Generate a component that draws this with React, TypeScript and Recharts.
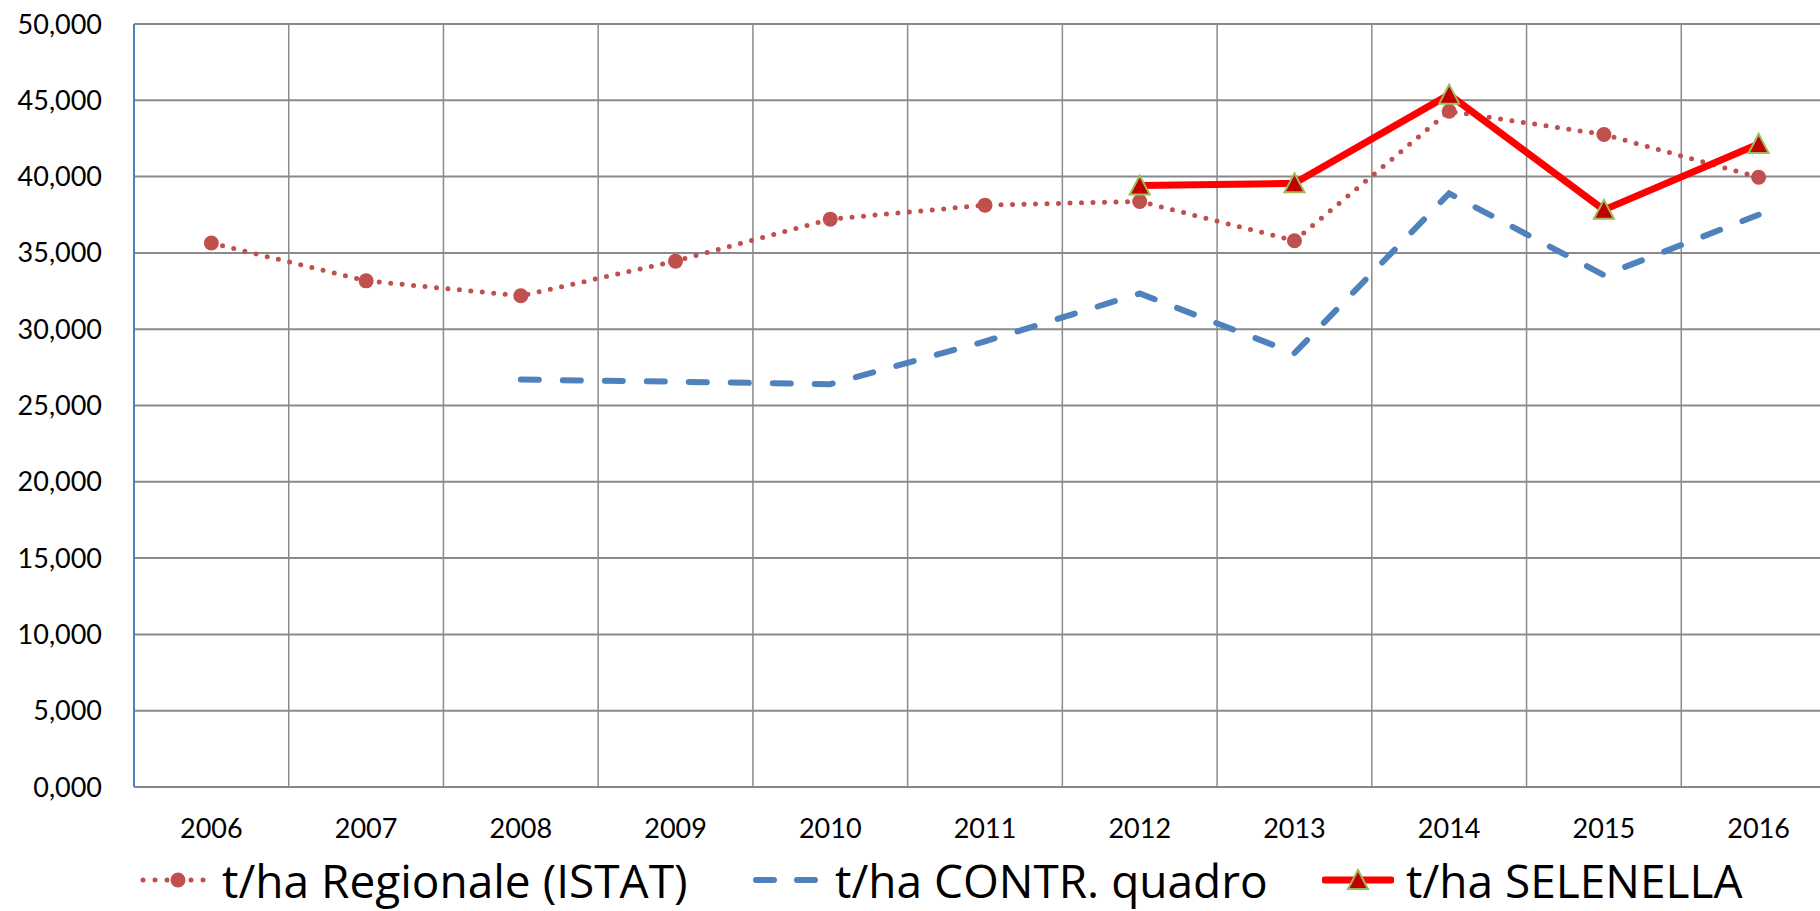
import React from 'react'
import { LineChart, Line, XAxis, YAxis, CartesianGrid, Legend } from 'recharts'

// t/ha per year
const years = ['2006', '2007', '2008', '2009', '2010', '2011', '2012', '2013', '2014', '2015', '2016']
const regionale = [35.65, 33.17, 32.19, 34.46, 37.21, 38.13, 38.37, 35.8, 44.28, 42.76, 39.96]
const contrQuadro = [null, null, 26.7, 26.56, 26.4, 29.2, 32.34, 28.43, 38.9, 33.54, 37.5]
const selenella = [null, null, null, null, null, null, 39.41, 39.56, 45.37, 37.82, 42.14]
const yTicks = [0, 5, 10, 15, 20, 25, 30, 35, 40, 45, 50]

const labels = {
  regionale: 't/ha Regionale (ISTAT)',
  contr: 't/ha CONTR. quadro',
  selenella: 't/ha SELENELLA',
}

const data = years.map((y, i) => ({
  year: y,
  regionale: regionale[i],
  contr: contrQuadro[i],
  selenella: selenella[i],
}))

const FONT = 'Lato, "Noto Sans", sans-serif'
const LEGEND_FONT = '"Open Sans", Lato, sans-serif'
const fmt = (v: number) => v.toFixed(3).replace('.', ',')

const Triangle = (props: any) => {
  const { cx, cy } = props
  if (cx == null || cy == null || props.value == null) return null
  return (
    <polygon
      points={`${cx},${cy - 10} ${cx + 10},${cy + 9} ${cx - 10},${cy + 9}`}
      fill="#C00000"
      stroke="#9BBB59"
      strokeWidth={2}
    />
  )
}

const RoundDot = (props: any) => {
  const { cx, cy } = props
  if (cx == null || cy == null || props.value == null) return null
  return <circle cx={cx} cy={cy} r={7.5} fill="#C0504D" />
}

function LegendIcon({ kind }: { kind: string }) {
  if (kind === 'regionale') {
    return (
      <svg width={70} height={24}>
        <line x1={3} y1={12} x2={66} y2={12} stroke="#C0504D" strokeWidth={5}
          strokeDasharray="0 12" strokeLinecap="round" />
        <circle cx={38} cy={12} r={7.5} fill="#C0504D" />
      </svg>
    )
  }
  if (kind === 'contr') {
    return (
      <svg width={70} height={24}>
        <line x1={3} y1={12} x2={66} y2={12} stroke="#4F81BD" strokeWidth={6}
          strokeDasharray="18 23" strokeLinecap="round" />
      </svg>
    )
  }
  return (
    <svg width={72} height={24}>
      <line x1={3} y1={12} x2={69} y2={12} stroke="#FF0000" strokeWidth={7} strokeLinecap="round" />
      <polygon points="36,2 46,21 26,21" fill="#C00000" stroke="#9BBB59" strokeWidth={2} />
    </svg>
  )
}

const legendOrder = [
  { key: 'regionale', width: 613 },
  { key: 'contr', width: 569 },
  { key: 'selenella', width: 480 },
]

function renderLegend() {
  return (
    <div style={{ paddingTop: 5, height: 55, paddingLeft: 140, fontFamily: LEGEND_FONT }}>
      <div style={{ display: 'flex', alignItems: 'center', height: 48 }}>
        {legendOrder.map(item => (
          <div key={item.key} style={{ display: 'flex', alignItems: 'center', width: item.width }}>
            <LegendIcon kind={item.key} />
            <span style={{ fontSize: 46, marginLeft: 12, color: '#000', whiteSpace: 'nowrap', lineHeight: '48px' }}>
              {labels[item.key as keyof typeof labels]}
            </span>
          </div>
        ))}
      </div>
    </div>
  )
}

export default function App() {
  return (
    <div style={{ position: 'fixed', left: 0, top: 0, width: 1820, height: 911, overflow: 'hidden', background: '#fff', fontFamily: FONT }}>
      <LineChart width={1836} height={911} data={data} margin={{ top: 24, right: 0, bottom: 0, left: 0 }}>
        <CartesianGrid vertical={false} stroke="#8A8A8A" strokeWidth={2} />
        <CartesianGrid
          horizontal={false}
          stroke="#8A8A8A"
          strokeWidth={1.5}
          verticalCoordinatesGenerator={({ offset }: any) =>
            years.map((_, i) => offset.left + (i + 1) * offset.width / years.length)
          }
        />
        <XAxis
          dataKey="year"
          scale="band"
          height={64}
          tickSize={0}
          tickMargin={32}
          axisLine={{ stroke: '#868686', strokeWidth: 2 }}
          tick={{ fill: '#000', fontSize: 27, fontFamily: FONT }}
          interval={0}
        />
        <YAxis
          domain={[0, 50]}
          ticks={yTicks}
          width={134}
          tickSize={0}
          tickMargin={32}
          tickFormatter={fmt}
          axisLine={{ stroke: '#4F81BD', strokeWidth: 2 }}
          tick={{ fill: '#000', fontSize: 27, fontFamily: FONT }}
        />
        <Line
          dataKey="regionale"
          type="linear"
          stroke="#C0504D"
          strokeWidth={5}
          strokeDasharray="0 11.5"
          strokeLinecap="round"
          dot={<RoundDot />}
          activeDot={false}
          isAnimationActive={false}
        />
        <Line
          dataKey="contr"
          type="linear"
          stroke="#4F81BD"
          strokeWidth={6}
          strokeDasharray="18 24"
          strokeLinecap="round"
          dot={false}
          activeDot={false}
          isAnimationActive={false}
        />
        <Line
          dataKey="selenella"
          type="linear"
          stroke="#FF0000"
          strokeWidth={7}
          strokeLinejoin="round"
          dot={<Triangle />}
          activeDot={false}
          isAnimationActive={false}
        />
        <Legend
          verticalAlign="bottom"
          content={renderLegend}
          wrapperStyle={{ left: 0, bottom: 0, width: 1820, height: 60 }}
        />
      </LineChart>
    </div>
  )
}
